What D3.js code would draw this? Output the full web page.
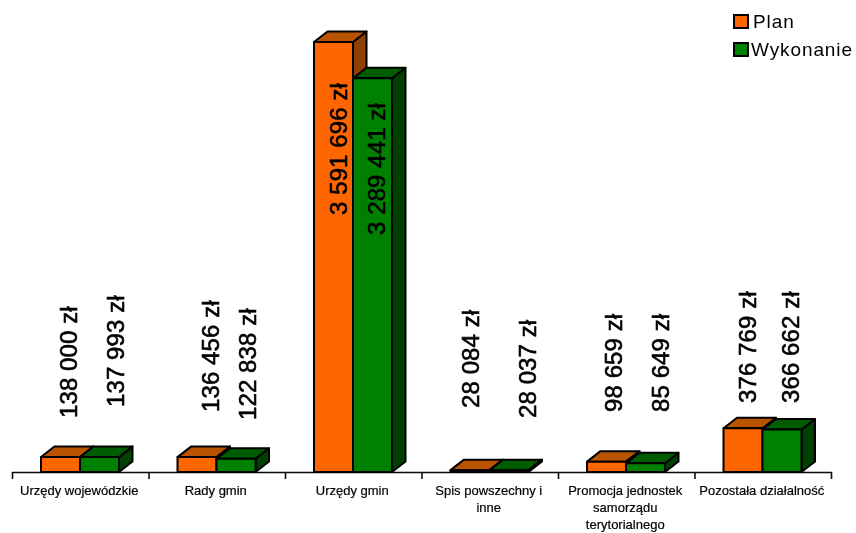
<!DOCTYPE html>
<html><head><meta charset="utf-8">
<script src="https://cdn.jsdelivr.net/npm/d3@7"></script>
<style>html,body{margin:0;padding:0;background:#fff}svg{display:block}text{font-family:"Liberation Sans",Arial,sans-serif;fill:#000}</style>
</head><body><svg id="c" width="856" height="533"></svg>
<script>
const categories = ["Urzędy wojewódzkie","Rady gmin","Urzędy gmin","Spis powszechny i inne","Promocja jednostek samorządu terytorialnego","Pozostała działalność"];
const categoryLines = [["Urzędy wojewódzkie"],["Rady gmin"],["Urzędy gmin"],["Spis powszechny i","inne"],["Promocja jednostek","samorządu","terytorialnego"],["Pozostała działalność"]];
const seriesNames = ["Plan","Wykonanie"];
const plan = [138000,136456,3591696,28084,98659,376769];
const wykonanie = [137993,122838,3289441,28037,85649,366662];
const seriesValues = [plan,wykonanie];

// layout of the free-floating value labels (centre x, bottom y)
const labelX = [[68,115],[210,247],[338,376],[470,527],[613,660],[747,790]];
const labelBottom = [[418,407],[412,420],[215,235],[408,418],[412,412],[403,403]];

const palette = [{front:"#FF6600",top:"#B85300",side:"#8F4000"},{front:"#008000",top:"#005C00",side:"#004000"}];
const W=856,H=533,base=472,left=12,right=831,depthX=13.5,depthY=10.5;
const svg=d3.select("#c");
const defs=svg.append("defs");
defs.append("filter").attr("id","soft").append("feGaussianBlur").attr("stdDeviation",0.5);
const g=svg.append("g").attr("filter","url(#soft)");

const x=d3.scaleBand().domain(d3.range(categories.length)).range([left,right]);
const inner=d3.scaleBand().domain(d3.range(seriesNames.length)).range([29,107]);
const y=d3.scaleLinear().domain([0,3591696]).range([473.5,42]);
const fmt=d3.formatLocale({decimal:",",thousands:"\u00a0",grouping:[3],currency:[""," zł"]}).format("$,.0f");

// axis with ticks on the category boundaries
const edge=d3.scaleLinear().domain([0,categories.length]).range([left,right]);
const ax=g.append("g").attr("transform",`translate(0,${base})`)
  .call(d3.axisBottom(edge).tickValues(d3.range(categories.length+1)).tickFormat("").tickSize(7).tickSizeOuter(0));
ax.selectAll("path,line").attr("stroke","#111").attr("stroke-width",1.6);

// 3D bars
seriesNames.forEach((s,si)=>{
  const c=palette[si];
  const bars=g.append("g").selectAll("g").data(seriesValues[si]).join("g");
  const X0=(d,i)=>x(i)+inner(si), X1=(d,i)=>X0(d,i)+inner.bandwidth();
  const common=sel=>sel.attr("stroke","#000").attr("stroke-width",2).attr("stroke-linejoin","round");
  bars.append("path").call(common).attr("fill",c.side).attr("d",(d,i)=>{
    const a=X1(d,i),t=y(d);
    return `M${a},${base}L${a+depthX},${base-depthY}L${a+depthX},${t-depthY}L${a},${t}Z`;});
  bars.append("path").call(common).attr("fill",c.top).attr("d",(d,i)=>{
    const a=X0(d,i),b=X1(d,i),t=y(d);
    return `M${a},${t}L${a+depthX},${t-depthY}L${b+depthX},${t-depthY}L${b},${t}Z`;});
  bars.append("rect").call(common).attr("fill",c.front)
    .attr("x",X0).attr("width",inner.bandwidth()).attr("y",d=>y(d)).attr("height",d=>Math.max(0,base-y(d)));
});

// value labels
seriesNames.forEach((s,si)=>{
  g.append("g").selectAll("text").data(seriesValues[si]).join("text")
    .attr("transform",(d,i)=>`translate(${labelX[i][si]},${labelBottom[i][si]}) rotate(-90)`)
    .attr("dy","0.36em").attr("font-size",24).attr("letter-spacing",0.1)
    .attr("stroke","#000").attr("stroke-width",0.6).text(d=>fmt(d));
});

// category labels
const cat=g.append("g").selectAll("text").data(categoryLines).join("text")
  .attr("text-anchor","middle").attr("font-size",13)
  .attr("stroke","#000").attr("stroke-width",0.2);
cat.each(function(lines,i){
  d3.select(this).selectAll("tspan").data(lines).join("tspan")
    .attr("x",x(i)+x.bandwidth()/2-1).attr("y",(d,j)=>494.5+j*17).text(d=>d);
});

// legend
const lg=g.append("g").selectAll("g").data(seriesNames).join("g");
const legY=d3.scalePoint().domain(seriesNames).range([22,50]);
lg.append("rect").attr("x",734).attr("y",d=>legY(d)-7).attr("width",14).attr("height",13)
  .attr("fill",(d,i)=>palette[i].front).attr("stroke","#000").attr("stroke-width",2);
lg.append("text").attr("x",(d,i)=>i?751:753).attr("y",d=>legY(d)+6).attr("font-size",19).attr("letter-spacing",0.9).text(d=>d);
</script></body></html>
